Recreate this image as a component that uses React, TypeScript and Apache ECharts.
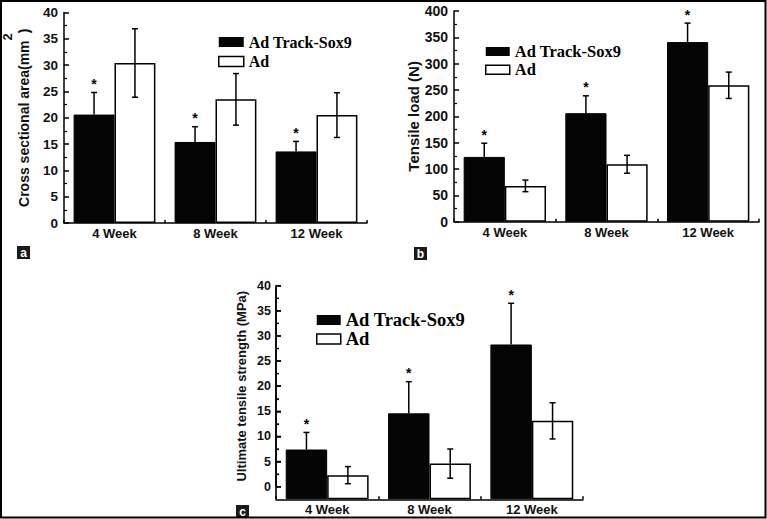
import React, { useEffect, useRef } from "react";
import * as echarts from "echarts";

// ---------- data ----------
const categories = ["4 Week", "8 Week", "12 Week"];
const seriesNames = ["Ad Track-Sox9", "Ad"];

const areaSox9 = [20.6, 15.4, 13.6];
const areaSox9Err = [4.2, 2.9, 1.9];
const areaAd = [30.4, 23.5, 20.5];
const areaAdErr = [6.5, 4.9, 4.25];

const loadSox9 = [123, 206, 341];
const loadSox9Err = [26, 33, 36];
const loadAd = [68, 109, 259];
const loadAdErr = [11, 17, 25];

const utsSox9 = [7.4, 14.6, 28.3];
const utsSox9Err = [3.4, 6.3, 8.2];
const utsAd = [2.3, 4.6, 13.1];
const utsAdErr = [1.7, 2.9, 3.6];

const utsAxisMin = -2.5;
const utsAxisMax = 40;
const utsAxisTicks = [0, 2.5, 5, 7.5, 10, 12.5, 15, 17.5, 20, 22.5, 25, 27.5, 30, 32.5, 35, 37.5, 40];

const panelLetters = ["a", "b", "c"];

// ---------- styles ----------
const SANS = '"Liberation Sans", Arial, Helvetica, sans-serif';
const SERIF = '"Liberation Serif", "Times New Roman", serif';
const INK = "#000";

function errSeries(
  values: number[],
  errs: number[],
  side: number,
  star: boolean,
  xi: number,
  yi: number
) {
  return {
    type: "custom",
    xAxisIndex: xi,
    yAxisIndex: yi,
    z: 5,
    clip: false,
    silent: true,
    encode: { x: 0, y: 1 },
    data: values.map((v, j) => [j, v, errs[j]]),
    renderItem: (params: any, api: any) => {
      const j = api.value(0);
      const v = api.value(1);
      const e = api.value(2);
      const band = api.size([1, 0])[0];
      const base = api.coord([j, v]);
      const x = base[0] + side * band * 0.2025;
      const yV = base[1];
      const yT = api.coord([j, v + e])[1];
      const yB = api.coord([j, v - e])[1];
      const st = { stroke: INK, lineWidth: 1.5 };
      const cap = 3;
      const children: any[] = [];
      if (star) {
        children.push({ type: "line", shape: { x1: x, y1: yV, x2: x, y2: yT }, style: st });
        children.push({ type: "line", shape: { x1: x - cap, y1: yT, x2: x + cap, y2: yT }, style: st });
        children.push({
          type: "text",
          style: {
            text: "*",
            x: x,
            y: yT - 8.5,
            align: "center",
            verticalAlign: "middle",
            font: `bold 14px ${SANS}`,
            fill: INK,
          },
        });
      } else {
        children.push({ type: "line", shape: { x1: x, y1: yB, x2: x, y2: yT }, style: st });
        children.push({ type: "line", shape: { x1: x - cap, y1: yT, x2: x + cap, y2: yT }, style: st });
        children.push({ type: "line", shape: { x1: x - cap, y1: yB, x2: x + cap, y2: yB }, style: st });
      }
      return { type: "group", children };
    },
  };
}

function barPair(sox: number[], ad: number[], xi: number, yi: number) {
  return [
    {
      name: seriesNames[0],
      type: "bar",
      xAxisIndex: xi,
      yAxisIndex: yi,
      data: sox,
      clip: false,
      barGap: "0%",
      barCategoryGap: "19%",
      itemStyle: { color: "#050505", borderColor: INK, borderWidth: 1 },
    },
    {
      name: seriesNames[1],
      type: "bar",
      xAxisIndex: xi,
      yAxisIndex: yi,
      data: ad,
      clip: false,
      barGap: "0%",
      barCategoryGap: "19%",
      itemStyle: { color: "#fff", borderColor: INK, borderWidth: 1.5 },
    },
  ];
}

function xAxisFor(gi: number, offset: number) {
  return {
    type: "category",
    gridIndex: gi,
    position: "bottom",
    offset,
    data: categories,
    boundaryGap: true,
    axisLine: { onZero: false, lineStyle: { color: INK, width: 1.5 } },
    axisTick: { show: true, inside: true, length: 3, lineStyle: { color: INK, width: 1.5 } },
    axisLabel: { margin: 4, fontSize: 13, fontWeight: "bold", fontFamily: SANS, color: "#111" },
    splitLine: { show: false },
  };
}

function legendFor(left: number, top: number, iw: number, ih: number, gap: number, fs: number) {
  return {
    orient: "vertical",
    left,
    top,
    padding: 0,
    itemWidth: iw,
    itemHeight: ih,
    itemGap: gap,
    icon: "rect",
    selectedMode: false,
    data: [
      { name: seriesNames[0], itemStyle: { color: "#050505", borderColor: INK, borderWidth: 0 } },
      { name: seriesNames[1], itemStyle: { color: "#fff", borderColor: INK, borderWidth: 1.5 } },
    ],
    textStyle: { fontFamily: SERIF, fontWeight: "bold", fontSize: fs, color: INK },
  };
}

const yCommon = {
  type: "value",
  position: "left",
  axisLine: { show: true, onZero: false, lineStyle: { color: INK, width: 1.5 } },
  axisTick: { show: true, inside: true, length: 5, lineStyle: { color: INK, width: 1.5 } },
  minorTick: { show: true, splitNumber: 2, length: 3, lineStyle: { color: INK, width: 1.2 } },
  splitLine: { show: false },
  nameLocation: "middle",
  nameRotate: 90,
};

const gridC = { left: 276, top: 285.7, width: 307, height: 201 };
const xOffsetC = 12.6;

export default function App() {
  const ref = useRef<HTMLDivElement>(null);

  useEffect(() => {
    if (!ref.current) return;
    const chart = echarts.init(ref.current, undefined, { renderer: "svg" });

    const letterBoxes = [
      { x: 17, y: 246, w: 13, h: 13 },
      { x: 414, y: 247, w: 13, h: 13 },
      { x: 236, y: 505, w: 13, h: 12 },
    ];

    // panel c spine, laid out from the grid box (0 at grid bottom, 40 at grid top)
    const pxPerUnit = gridC.height / utsAxisMax;
    const yOf = (v: number) => gridC.top + gridC.height - v * pxPerUnit;
    const spine: any[] = [
      {
        type: "line",
        z: 100,
        silent: true,
        shape: { x1: gridC.left, y1: yOf(utsAxisMax), x2: gridC.left, y2: yOf(utsAxisMin) },
        style: { stroke: INK, lineWidth: 1.6 },
      },
      ...utsAxisTicks.map((t) => {
        const major = Math.abs(t % 5) < 1e-6;
        return {
          type: "line",
          z: 100,
          silent: true,
          shape: { x1: gridC.left, y1: yOf(t), x2: gridC.left + (major ? 5 : 3), y2: yOf(t) },
          style: { stroke: INK, lineWidth: major ? 1.5 : 1.2 },
        };
      }),
    ];

    const option: any = {
      animation: false,
      backgroundColor: "#fff",
      grid: [
        { left: 63, top: 12.5, width: 304, height: 210.5 },
        { left: 454, top: 11, width: 305, height: 210.7 },
        gridC,
      ],
      legend: [
        legendFor(218, 34, 25, 10, 3.5, 16),
        legendFor(485, 43, 24, 9, 1.2, 16.5),
        legendFor(316, 310.5, 24, 10, 0, 18.5),
      ],
      xAxis: [xAxisFor(0, 0), xAxisFor(1, 0), xAxisFor(2, xOffsetC)],
      yAxis: [
        {
          ...yCommon,
          gridIndex: 0,
          min: 0,
          max: 40,
          interval: 5,
          axisLabel: { margin: 6, fontSize: 13.5, fontWeight: "bold", fontFamily: SANS, color: "#111" },
          name: "{t|Cross sectional area(mm}{s|2}{t|)}",
          nameGap: 33,
          nameTextStyle: {
            fontSize: 14,
            fontWeight: "bold",
            fontFamily: SANS,
            color: "#111",
            rich: {
              t: { fontSize: 14, fontWeight: "bold", fontFamily: SANS, color: "#111", lineHeight: 30, verticalAlign: "bottom" },
              s: { fontSize: 13, fontWeight: "bold", fontFamily: SANS, color: "#111", lineHeight: 12, verticalAlign: "top" },
            },
          },
        },
        {
          ...yCommon,
          gridIndex: 1,
          min: 0,
          max: 400,
          interval: 50,
          axisLabel: { margin: 6, fontSize: 14, fontWeight: "bold", fontFamily: SANS, color: "#111" },
          name: "Tensile load (N)",
          nameGap: 31,
          nameTextStyle: { fontSize: 15, fontWeight: "bold", fontFamily: SANS, color: "#111" },
        },
        {
          ...yCommon,
          gridIndex: 2,
          min: 0,
          max: utsAxisMax,
          interval: 5,
          startValue: utsAxisMin,
          axisLabel: { margin: 5, fontSize: 12.5, fontWeight: "bold", fontFamily: SANS, color: "#111" },
          name: "Ultimate tensile strength (MPa)",
          nameGap: 28,
          nameTextStyle: { fontSize: 13, fontWeight: "bold", fontFamily: SANS, color: "#111" },
        },
      ],
      series: [
        ...barPair(areaSox9, areaAd, 0, 0),
        errSeries(areaSox9, areaSox9Err, -1, true, 0, 0),
        errSeries(areaAd, areaAdErr, 1, false, 0, 0),
        ...barPair(loadSox9, loadAd, 1, 1),
        errSeries(loadSox9, loadSox9Err, -1, true, 1, 1),
        errSeries(loadAd, loadAdErr, 1, false, 1, 1),
        ...barPair(utsSox9, utsAd, 2, 2),
        errSeries(utsSox9, utsSox9Err, -1, true, 2, 2),
        errSeries(utsAd, utsAdErr, 1, false, 2, 2),
      ],
      graphic: [
        {
          type: "rect",
          shape: { x: 1, y: 1, width: 764.5, height: 516.5 },
          style: { fill: "none", stroke: INK, lineWidth: 2 },
          z: 100,
          silent: true,
        },
        ...spine,
        ...letterBoxes.map((b, i) => ({
          type: "group",
          silent: true,
          z: 100,
          children: [
            { type: "rect", shape: { x: b.x, y: b.y, width: b.w, height: b.h }, style: { fill: "#1a1a1a" } },
            {
              type: "text",
              style: {
                text: panelLetters[i],
                x: b.x + b.w / 2,
                y: b.y + b.h / 2 + 0.5,
                align: "center",
                verticalAlign: "middle",
                font: `bold 12px ${SANS}`,
                fill: "#fff",
              },
            },
          ],
        })),
      ],
    };

    chart.setOption(option);
    return () => {
      chart.dispose();
    };
  }, []);

  return (
    <div
      ref={ref}
      style={{ position: "fixed", left: 0, top: 0, width: 767, height: 519, background: "#fff" }}
    />
  );
}
